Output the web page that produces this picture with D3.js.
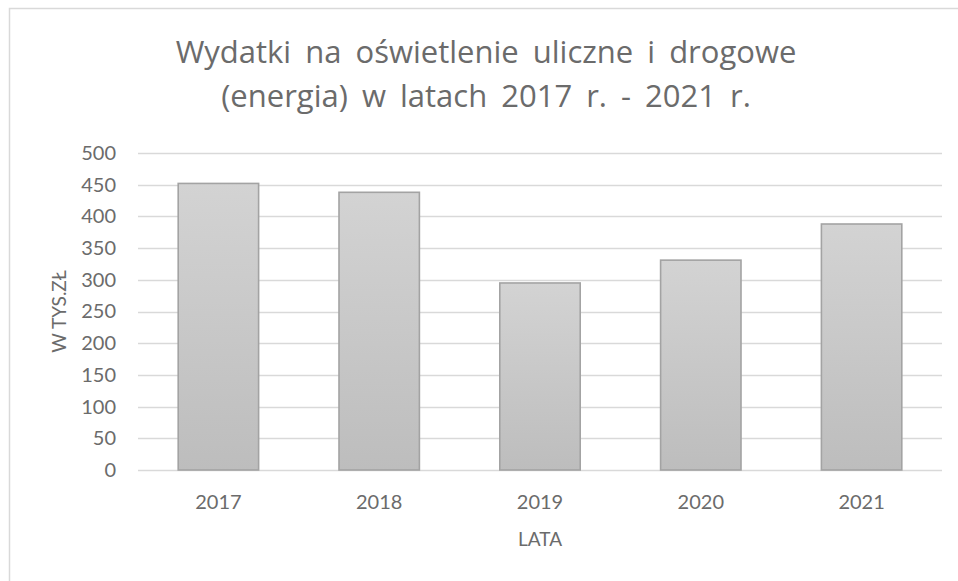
<!DOCTYPE html>
<html>
<head>
<meta charset="utf-8">
<script src="https://cdn.jsdelivr.net/npm/d3@7"></script>
<style>
  body { margin: 0; background: #fff; }
  svg { display: block; font-family: Lato, "Open Sans", sans-serif; }
</style>
</head>
<body>
<svg id="chart" width="958" height="581"></svg>
<script>
var years = ["2017", "2018", "2019", "2020", "2021"]
var wydatki = [452, 438, 295, 331, 388]
var yTicks = [0, 50, 100, 150, 200, 250, 300, 350, 400, 450, 500]
var titleLines = ["Wydatki na oświetlenie uliczne i drogowe", "(energia) w latach 2017 r. - 2021 r."]

var svg = d3.select("#chart")
var margin = {left: 138, right: 16, top: 153, bottom: 111}
var width = 958 - margin.left - margin.right
var height = 581 - margin.top - margin.bottom
var textColor = "#6b6b6b"
var font = "Lato, 'Open Sans', sans-serif"

// chart frame (only top/left edges are in view)
svg.append("rect")
    .attr("x", 9.5).attr("y", 8.5)
    .attr("width", 1000).attr("height", 1000)
    .attr("fill", "none")
    .attr("stroke", "#d9d9d9")
    .attr("stroke-width", 1.5)

var defs = svg.append("defs")
var grad = defs.append("linearGradient")
    .attr("id", "barGrad")
    .attr("x1", 0).attr("y1", 0).attr("x2", 0).attr("y2", 1)
grad.append("stop").attr("offset", "0%").attr("stop-color", "#d3d3d3")
grad.append("stop").attr("offset", "100%").attr("stop-color", "#bdbdbd")

var x = d3.scaleBand().domain(years).range([0, width]).paddingInner(0.5).paddingOuter(0.25)
var y = d3.scaleLinear().domain([0, 500]).range([height, 0])

var g = svg.append("g").attr("transform", "translate(" + margin.left + "," + margin.top + ")")

// gridlines
g.append("g")
    .selectAll("line")
    .data(yTicks)
    .enter().append("line")
    .attr("x1", 0).attr("x2", width)
    .attr("y1", function(d) { return Math.round(y(d)) + 0.5 })
    .attr("y2", function(d) { return Math.round(y(d)) + 0.5 })
    .attr("stroke", "#d9d9d9")
    .attr("stroke-width", 1.3)

// y axis
var yAxis = g.append("g")
    .call(d3.axisLeft(y).tickValues(yTicks).tickSize(0).tickPadding(22))
    .attr("font-family", font)
yAxis.select(".domain").remove()
yAxis.selectAll("text")
    .attr("fill", textColor)
    .style("font-size", "20px")

// bars
g.append("g")
    .selectAll("rect")
    .data(wydatki)
    .enter().append("rect")
    .attr("x", function(d, i) { return x(years[i]) })
    .attr("y", function(d) { return y(d) })
    .attr("width", x.bandwidth())
    .attr("height", function(d) { return height - y(d) })
    .attr("fill", "url(#barGrad)")
    .attr("stroke", "#a3a3a3")
    .attr("stroke-width", 1.6)

// x axis
var xAxis = g.append("g")
    .attr("transform", "translate(0," + height + ")")
    .call(d3.axisBottom(x).tickSize(0).tickPadding(25))
    .attr("font-family", font)
xAxis.select(".domain").remove()
xAxis.selectAll("text")
    .attr("fill", textColor)
    .style("font-size", "20px")

// axis titles
svg.append("text")
    .attr("x", margin.left + width / 2)
    .attr("y", 546)
    .attr("text-anchor", "middle")
    .attr("fill", textColor)
    .style("font-size", "19px")
    .text("LATA")

svg.append("text")
    .attr("transform", "translate(66," + (margin.top + height / 2) + ") rotate(-90)")
    .attr("text-anchor", "middle")
    .attr("fill", textColor)
    .style("font-size", "19px")
    .text("W TYS.ZŁ")

// title
svg.append("g")
    .selectAll("text")
    .data(titleLines)
    .enter().append("text")
    .attr("x", 486)
    .attr("y", function(d, i) { return 63 + i * 44 })
    .attr("text-anchor", "middle")
    .attr("fill", textColor)
    .style("font-family", "'Open Sans', Lato, sans-serif")
    .style("font-size", "31px")
    .style("word-spacing", "6px")
    .text(function(d) { return d })
</script>
</body>
</html>
